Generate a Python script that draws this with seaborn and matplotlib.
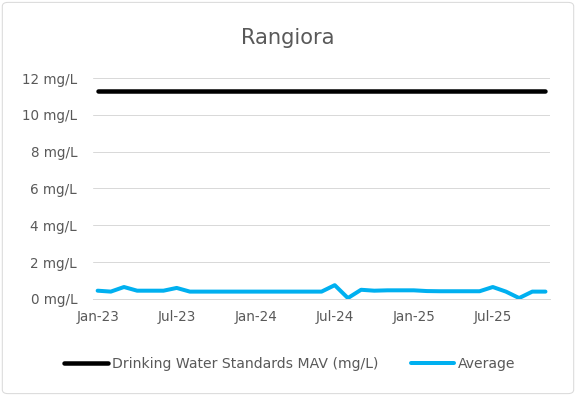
import matplotlib
matplotlib.use("Agg")
import matplotlib.pyplot as plt
import seaborn as sns
import pandas as pd
from matplotlib.patches import FancyBboxPatch

months = ["Jan-23","Feb-23","Mar-23","Apr-23","May-23","Jun-23","Jul-23","Aug-23","Sep-23","Oct-23","Nov-23","Dec-23",
          "Jan-24","Feb-24","Mar-24","Apr-24","May-24","Jun-24","Jul-24","Aug-24","Sep-24","Oct-24","Nov-24","Dec-24",
          "Jan-25","Feb-25","Mar-25","Apr-25","May-25","Jun-25","Jul-25","Aug-25","Sep-25","Oct-25","Nov-25"]
average = [0.45,0.40,0.65,0.45,0.45,0.45,0.60,0.40,0.40,0.40,0.40,0.40,
           0.40,0.40,0.40,0.40,0.40,0.40,0.75,0.05,0.50,0.45,0.47,0.47,
           0.47,0.43,0.42,0.42,0.42,0.42,0.65,0.40,0.05,0.40,0.40]
mav = [11.3] * len(months)
tick_labels = ["Jan-23","Jul-23","Jan-24","Jul-24","Jan-25","Jul-25"]
y_ticks = [0, 2, 4, 6, 8, 10, 12]

df = pd.DataFrame({"idx": range(len(months)), "month": months, "avg": average, "mav": mav})

sns.set_theme(style="white")
plt.rcParams['font.family'] = ['DejaVu Sans']

fig = plt.figure(figsize=(8, 5.5), dpi=72)
ax = fig.add_axes([0.1615, 0.245, 0.7935, 0.558])

sns.lineplot(data=df, x="idx", y="mav", ax=ax, color="black", linewidth=4.5,
             label="Drinking Water Standards MAV (mg/L)")
sns.lineplot(data=df, x="idx", y="avg", ax=ax, color="#00B0F0", linewidth=4.0,
             label="Average")

ax.set_xlim(-0.35, len(months) - 1 + 0.35)
ax.set_ylim(0, 12)
ax.set_yticks(y_ticks)
ax.set_yticklabels([f"{v} mg/L" for v in y_ticks], color="#595959", fontsize=13.5)
ax.set_xticks([months.index(t) for t in tick_labels])
ax.set_xticklabels(tick_labels, color="#595959", fontsize=13.5)
ax.tick_params(axis="y", length=0, pad=16)
ax.tick_params(axis="x", length=0, pad=11)
ax.set_xlabel("")
ax.set_ylabel("")
ax.grid(axis="y", color="#D9D9D9", linewidth=1)
for s in ["top", "right", "left"]:
    ax.spines[s].set_visible(False)
ax.spines["bottom"].set_color("#D9D9D9")
ax.spines["bottom"].set_linewidth(1)

fig.text(0.5, 0.905, "Rangiora", ha="center", va="center", fontsize=21, color="#595959")

leg = ax.legend(loc="center", bbox_to_anchor=(0.431, -0.294), ncol=2, frameon=False,
                fontsize=14, handlelength=3.1, columnspacing=2.3, handletextpad=0.3)
for t in leg.get_texts():
    t.set_color("#595959")

border = FancyBboxPatch((0.004, 0.006), 0.992, 0.988, boxstyle="round,pad=0,rounding_size=0.01",
                        transform=fig.transFigure, facecolor="none", edgecolor="#D9D9D9", linewidth=1)
fig.patches.append(border)

fig.savefig("out.png", dpi=72, facecolor="white")
